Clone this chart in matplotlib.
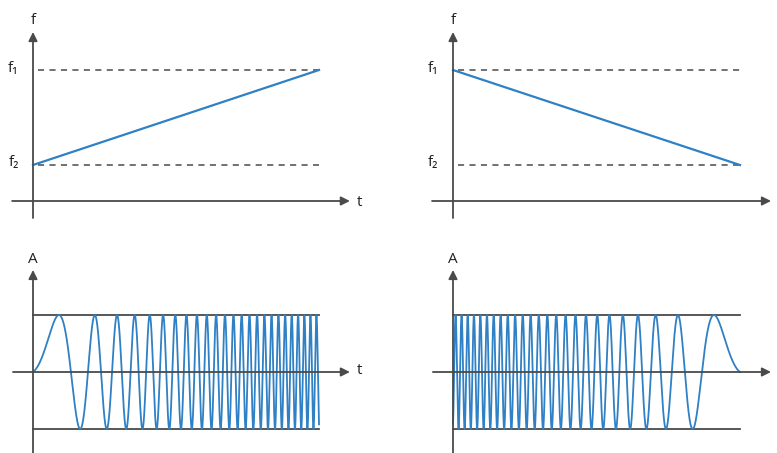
import numpy as np
import matplotlib
matplotlib.use("Agg")
from matplotlib import pyplot as plt

plt.rcParams['font.family'] = ['Open Sans', 'DejaVu Sans']

# sweep duration (time units) and the two frequency levels on the f axis
t_end = 1.0
f1_level = 1.31
f2_level = 0.36

# chirp signal: start/end frequency in cycles per sweep, amplitude
chirp_f_start = 0.57
chirp_f_end = 48.8
amp = 1.0

# colours
blue = '#2f80c4'
axis_col = '#4a4a4a'
W, H = 777, 453


def make_panel(fig, origin, scale, box):
    # origin/box in pixels; scale = px per data unit (x, y)
    ox, oy = origin
    sx, sy = scale
    left, top, right, bottom = box
    ax = fig.add_axes([left / W, 1 - bottom / H, (right - left) / W, (bottom - top) / H])
    ax.set_xlim((left - ox) / sx, (right - ox) / sx)
    ax.set_ylim((oy - bottom) / sy, (oy - top) / sy)
    ax.axis('off')
    return ax


def arrow(ax, start, tip):
    ax.annotate('', xy=tip, xytext=start,
                arrowprops=dict(arrowstyle='-|>', color=axis_col, lw=1.3,
                                mutation_scale=13, shrinkA=0, shrinkB=0))


def freq_panel(ax, rising, show_t):
    arrow(ax, (-0.073, 0), (1.108, 0))
    arrow(ax, (0, -0.17), (0, 1.69))
    for lvl in (f1_level, f2_level):
        ax.plot([0.017, t_end], [lvl, lvl], color=axis_col, lw=1.1, ls=(0, (4, 3.5)))
    if rising:
        ax.plot([0, t_end], [f2_level, f1_level], color=blue, lw=1.6)
    else:
        ax.plot([0, t_end], [f1_level, f2_level], color=blue, lw=1.6)
    ax.text(0, 1.80, 'f', ha='center', va='center', fontsize=11, color='#222')
    ax.text(-0.068, f1_level + 0.02, 'f₁', ha='center', va='center', fontsize=11, color='#222')
    ax.text(-0.068, f2_level + 0.03, 'f₂', ha='center', va='center', fontsize=11, color='#222')
    if show_t:
        ax.text(1.143, -0.01, 't', ha='center', va='center', fontsize=11, color='#222')


def chirp_panel(ax, rising, show_t):
    t = np.linspace(0, t_end, 6000)
    phase = chirp_f_start * t + (chirp_f_end - chirp_f_start) * t ** 2 / (2 * t_end)
    y = amp * np.sin(2 * np.pi * phase)
    if not rising:
        y = y[::-1]
    for lvl in (amp, -amp):
        ax.plot([0, t_end], [lvl, lvl], color=axis_col, lw=1.3)
    ax.plot(t, y, color=blue, lw=1.3)
    arrow(ax, (-0.07, 0), (1.108, 0))
    arrow(ax, (0, -1.6), (0, 1.79))
    ax.text(0, 1.98, 'A', ha='center', va='center', fontsize=11, color='#222')
    if show_t:
        ax.text(1.143, 0.03, 't', ha='center', va='center', fontsize=11, color='#222')


fig = plt.figure(figsize=(W / 100, H / 100), dpi=100)

ax1 = make_panel(fig, (33, 201), (286, 100), (0, 0, 388, 230))
freq_panel(ax1, True, True)
ax2 = make_panel(fig, (453, 201), (287, 100), (388, 0, 777, 230))
freq_panel(ax2, False, False)
ax3 = make_panel(fig, (33, 372), (286, 57), (0, 230, 388, 453))
chirp_panel(ax3, True, True)
ax4 = make_panel(fig, (453, 372), (287, 57), (388, 230, 777, 453))
chirp_panel(ax4, False, False)

fig.savefig('out.png', dpi=100, facecolor='white')
